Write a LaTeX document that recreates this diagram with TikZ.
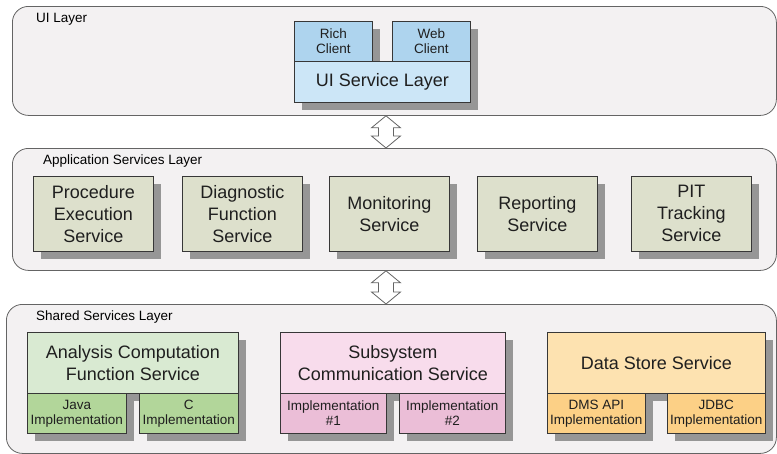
\documentclass[tikz,border=0pt]{standalone}
\usepackage{fontspec}
\setmainfont{Liberation Sans}
\usetikzlibrary{shadows}

\definecolor{layerfill}{RGB}{243,241,242}
\definecolor{layerline}{RGB}{100,100,100}
\definecolor{boxline}{RGB}{55,55,55}
\definecolor{shadowgray}{RGB}{150,150,150}
\definecolor{appfill}{RGB}{221,224,204}
\definecolor{uidark}{RGB}{174,212,238}
\definecolor{uilight}{RGB}{204,230,247}
\definecolor{greenlight}{RGB}{217,234,210}
\definecolor{greendark}{RGB}{178,214,154}
\definecolor{pinklight}{RGB}{248,220,236}
\definecolor{pinkdark}{RGB}{235,190,215}
\definecolor{orangelight}{RGB}{253,226,176}
\definecolor{orangedark}{RGB}{252,208,134}

\tikzset{
  layer/.style={draw=layerline, fill=layerfill, rounded corners=16pt, line width=0.8pt, anchor=north west, inner sep=0pt},
  layertitle/.style={anchor=west, inner sep=0pt, font=\fontsize{13.5}{15}\selectfont},
  box/.style={draw=boxline, line width=0.7pt, anchor=north west, align=center, inner sep=0pt, text=black!88,
    drop shadow={shadow xshift=8pt, shadow yshift=-8pt, fill=shadowgray, opacity=1}},
  bigtext/.style={font=\fontsize{18}{22}\selectfont},
  smalltext/.style={font=\fontsize{13.5}{15}\selectfont},
  blockarrow/.style={draw=layerline, fill=white, line width=0.8pt, line join=miter}
}

\begin{document}
\begin{tikzpicture}[x=1pt, y=-1pt]
    \useasboundingbox (0,0) rectangle (777,453);

    % Layers
    \node[layer, minimum width=764pt, minimum height=109pt] (ui) at (12,6) {};
    \node[layer, minimum width=764pt, minimum height=122pt] (app) at (12,148) {};
    \node[layer, minimum width=770pt, minimum height=149pt] (shared) at (6,304) {};

    \node[layertitle] (uititle) at (36,19) {UI Layer};
    \node[layertitle] (apptitle) at (43,161) {Application Services Layer};
    \node[layertitle] (sharedtitle) at (36,317) {Shared Services Layer};

    % UI layer
    \node[box, fill=uidark, smalltext, minimum width=78pt, minimum height=40pt] (rich) at (294,21) {Rich\\Client};
    \node[box, fill=uidark, smalltext, minimum width=78pt, minimum height=40pt] (web) at (392,21) {Web\\Client};
    \node[box, fill=uilight, bigtext, minimum width=176pt, minimum height=41pt] (uisvc) at (294,61) {UI Service Layer};

    % Application services
    \foreach \x/\name/\txt in {33/pes/{Procedure\\Execution\\Service}, 182/dfs/{Diagnostic\\Function\\Service},
        329/mon/{Monitoring\\Service}, 477/rep/{Reporting\\Service}, 631/pit/{PIT\\Tracking\\Service}} {
        \node[box, fill=appfill, bigtext, minimum width=120pt, minimum height=75pt] (\name) at (\x,176) {\txt};
    }

    % Shared services
    \node[box, fill=greenlight, bigtext, minimum width=211pt, minimum height=61pt] (acf) at (27,332) {Analysis Computation\\Function Service};
    \node[box, fill=greendark, smalltext, minimum width=99pt, minimum height=40pt] (java) at (27,393) {Java\\Implementation};
    \node[box, fill=greendark, smalltext, minimum width=99pt, minimum height=40pt] (cimpl) at (139,393) {C\\Implementation};

    \node[box, fill=pinklight, bigtext, minimum width=225pt, minimum height=61pt] (subsys) at (280,332) {Subsystem\\Communication Service};
    \node[box, fill=pinkdark, smalltext, minimum width=106pt, minimum height=40pt] (impla) at (280,393) {Implementation\\\#1};
    \node[box, fill=pinkdark, smalltext, minimum width=106pt, minimum height=40pt] (implb) at (399,393) {Implementation\\\#2};

    \node[box, fill=orangelight, bigtext, minimum width=218pt, minimum height=61pt] (dss) at (547,332) {Data Store Service};
    \node[box, fill=orangedark, smalltext, minimum width=98pt, minimum height=40pt] (dms) at (547,393) {DMS API\\Implementation};
    \node[box, fill=orangedark, smalltext, minimum width=98pt, minimum height=40pt] (jdbc) at (667,393) {JDBC\\Implementation};

    % Arrows between layers
    \coordinate (arrx) at (386,0);
    \coordinate (tipa) at (ui.south -| arrx);
    \coordinate (tipb) at (app.north -| arrx);
    \coordinate (tipc) at (app.south -| arrx);
    \coordinate (tipd) at (shared.north -| arrx);
    \foreach \s/\e in {tipa/tipb, tipc/tipd} {
        \draw[blockarrow] (\s) -- ++(14.5,12) -- ++(-7,0) -- ([xshift=7.5pt,yshift=12pt]\e) -- ++(7,0) -- (\e)
            -- ++(-14.5,-12) -- ++(7,0) -- ([xshift=-7.5pt,yshift=-12pt]\s) -- ++(-7,0) -- cycle;
    }

\end{tikzpicture}
\end{document}
